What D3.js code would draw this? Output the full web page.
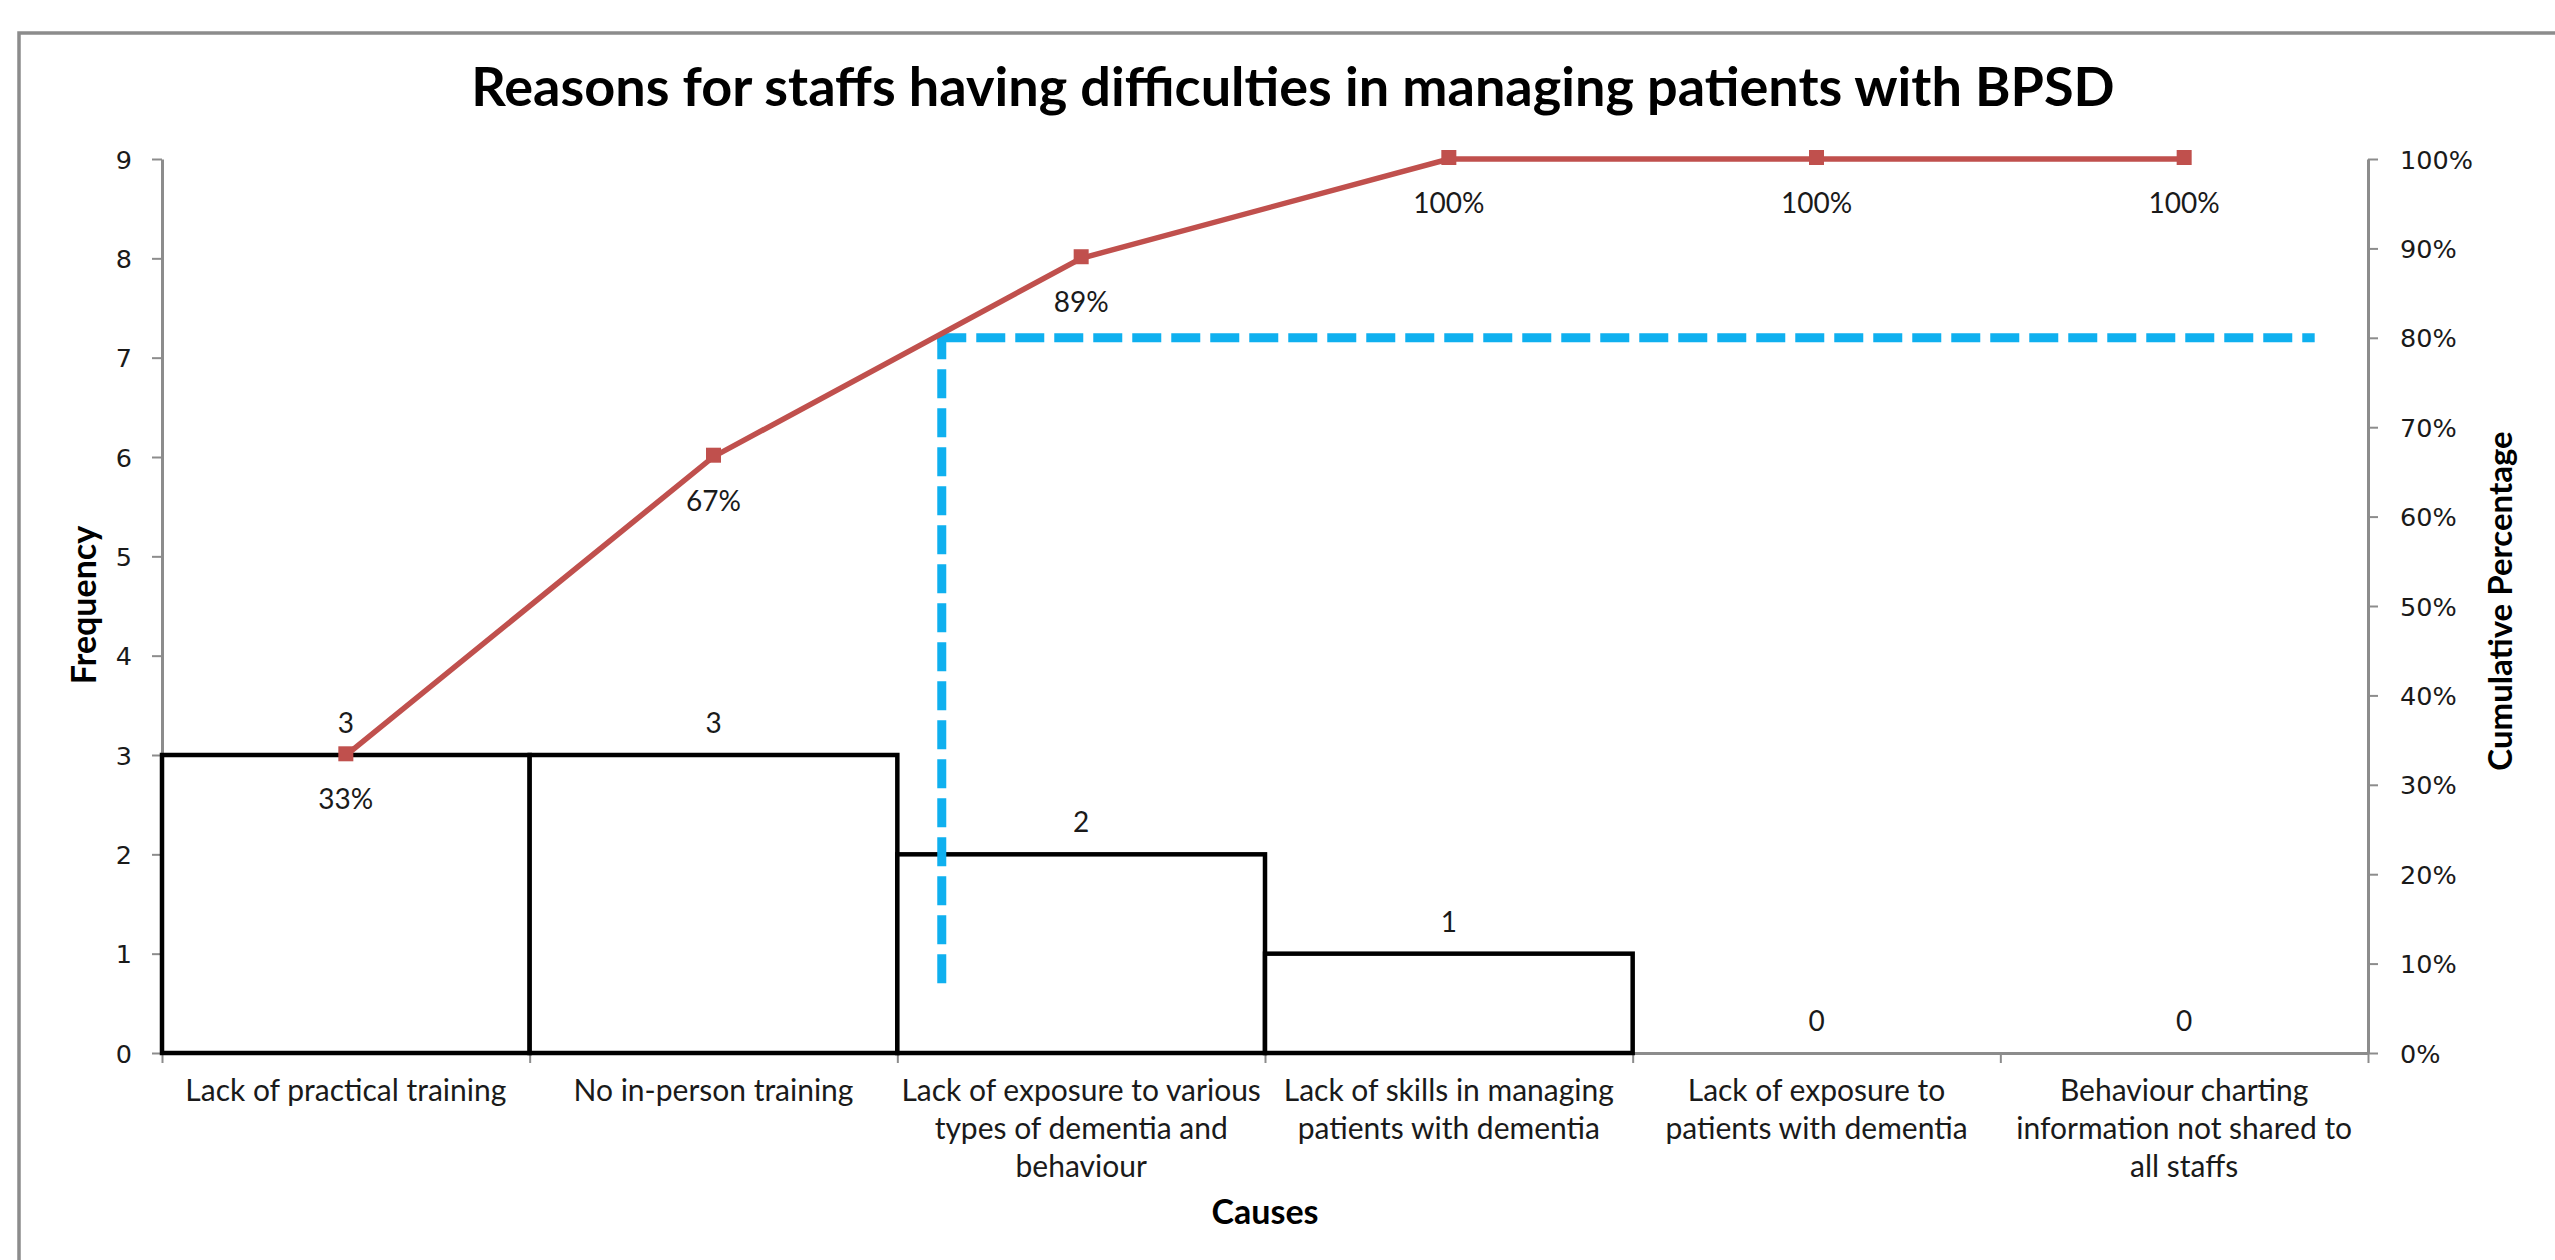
<!DOCTYPE html>
<html>
<head>
<meta charset="utf-8">
<script src="https://cdn.jsdelivr.net/npm/d3@7"></script>
<style>
  body { margin: 0; background: #fff; }
  svg { display: block; }
</style>
</head>
<body>
<div id="chart"></div>
<script>
// ---- data ----
const causes = [
  ["Lack of practical training"],
  ["No in-person training"],
  ["Lack of exposure to various", "types of dementia and", "behaviour"],
  ["Lack of skills in managing", "patients with dementia"],
  ["Lack of exposure to", "patients with dementia"],
  ["Behaviour charting", "information not shared to", "all staffs"]
];
const frequency = [3, 3, 2, 1, 0, 0];
const cumulativePct = [0.333, 0.667, 0.889, 1, 1, 1];
const freqTicks = [0, 1, 2, 3, 4, 5, 6, 7, 8, 9];
const pctTicks = [0, 0.1, 0.2, 0.3, 0.4, 0.5, 0.6, 0.7, 0.8, 0.9, 1];
const cutoff = 0.8;          // 80% pareto line
const cutoffDropTo = 0.078;  // dashed drop line stops here (pct axis)
const cutoffEnd = 5.855;     // dashed 80% line stops here (category position)

const width = 2555, height = 1260;
const plotLeft = 162, plotRight = 2368, plotTop = 159, plotBottom = 1053;
const calibri = "Lato, 'Open Sans', sans-serif";
const verdana = "'DejaVu Sans', Verdana, sans-serif";

var svg = d3.select("#chart").append("svg")
    .attr("width", width)
    .attr("height", height);

// chart frame
svg.append("rect")
    .attr("x", 19).attr("y", 33)
    .attr("width", 2700).attr("height", 1400)
    .attr("fill", "none")
    .attr("stroke", "#8c8c8c")
    .attr("stroke-width", 3.5);

const x = d3.scaleBand().domain(d3.range(causes.length)).range([plotLeft, plotRight]).padding(0);
const xPos = d3.scaleLinear().domain([0, causes.length]).range([plotLeft, plotRight]);
const yFreq = d3.scaleLinear().domain([0, 9]).range([plotBottom, plotTop]);
const yPct = d3.scaleLinear().domain([0, 1]).range([plotBottom, plotTop]);

function styleAxis(g, font) {
    g.select(".domain").attr("stroke", "#8c8c8c").attr("stroke-width", 3);
    g.selectAll(".tick line").attr("stroke", "#8c8c8c").attr("stroke-width", 2);
    g.selectAll(".tick text")
        .attr("font-family", font)
        .attr("font-size", 25.5)
        .attr("fill", "#1a1a1a");
}

// left axis
svg.append("g")
    .attr("transform", `translate(${plotLeft},0)`)
    .call(d3.axisLeft(yFreq).tickValues(freqTicks).tickSize(10).tickSizeOuter(0).tickPadding(20))
    .call(g => styleAxis(g, verdana))
    .call(g => g.selectAll(".tick text").attr("dy", "0.36em"));

// right axis
svg.append("g")
    .attr("transform", `translate(${plotRight},0)`)
    .call(d3.axisRight(yPct).tickValues(pctTicks).tickFormat(d3.format(".0%"))
        .tickSize(10).tickSizeOuter(0).tickPadding(22))
    .call(g => styleAxis(g, verdana))
    .call(g => g.selectAll(".tick text").attr("dy", "0.36em"));

// bottom axis, ticks on category boundaries
svg.append("g")
    .attr("transform", `translate(0,${plotBottom})`)
    .call(d3.axisBottom(xPos).tickValues(d3.range(causes.length + 1)).tickFormat("")
        .tickSize(10).tickSizeOuter(0))
    .call(g => styleAxis(g, verdana));

// category labels
const catLabels = svg.append("g").selectAll("text")
    .data(causes)
    .enter().append("text")
    .attr("x", (d, i) => x(i) + x.bandwidth() / 2)
    .attr("y", 1101)
    .attr("text-anchor", "middle")
    .attr("font-family", calibri)
    .attr("font-size", 30)
    .attr("fill", "#1a1a1a");
catLabels.selectAll("tspan")
    .data(d => d)
    .enter().append("tspan")
    .attr("x", function() { return this.parentNode.getAttribute("x"); })
    .attr("dy", (d, i) => i === 0 ? 0 : 38)
    .text(d => d);

// bars
svg.append("g").selectAll("rect")
    .data(frequency)
    .enter().append("rect")
    .attr("x", (d, i) => x(i))
    .attr("y", d => yFreq(d))
    .attr("width", x.bandwidth())
    .attr("height", d => yFreq(0) - yFreq(d))
    .attr("fill", "#fff")
    .attr("stroke", d => d > 0 ? "#000" : "none")
    .attr("stroke-width", 4.5);

// bar value labels
svg.append("g").selectAll("text")
    .data(frequency)
    .enter().append("text")
    .attr("x", (d, i) => x(i) + x.bandwidth() / 2)
    .attr("y", d => yFreq(d) - 22)
    .attr("text-anchor", "middle")
    .attr("font-family", calibri)
    .attr("font-size", 28)
    .attr("fill", "#1a1a1a")
    .text(d => d);

// 80% cutoff, dashed blue
let cross = 0;
for (let i = 1; i < cumulativePct.length; i++) {
    if (cumulativePct[i - 1] < cutoff && cumulativePct[i] >= cutoff) {
        cross = i - 1 + (cutoff - cumulativePct[i - 1]) / (cumulativePct[i] - cumulativePct[i - 1]);
        break;
    }
}
const crossX = xPos(cross + 0.5) + 8;
const dash = svg.append("g")
    .attr("stroke", "#0fb0ef")
    .attr("stroke-width", 9)
    .attr("stroke-dasharray", "29 10")
    .attr("fill", "none");
dash.append("path")
    .attr("d", d3.line()([[crossX, yPct(cutoffDropTo)], [crossX, yPct(cutoff)]]));
dash.append("path")
    .attr("d", d3.line()([[crossX - 4.5, yPct(cutoff)], [xPos(cutoffEnd), yPct(cutoff)]]));

// cumulative line
const cumLine = d3.line()
    .x((d, i) => x(i) + x.bandwidth() / 2)
    .y(d => yPct(d));
svg.append("path")
    .datum(cumulativePct)
    .attr("d", cumLine)
    .attr("fill", "none")
    .attr("stroke", "#c0504d")
    .attr("stroke-width", 5.5);

svg.append("g").selectAll("rect")
    .data(cumulativePct)
    .enter().append("rect")
    .attr("x", (d, i) => x(i) + x.bandwidth() / 2 - 7.5)
    .attr("y", d => yPct(d) - 9)
    .attr("width", 15)
    .attr("height", 15)
    .attr("fill", "#c0504d");

svg.append("g").selectAll("text")
    .data(cumulativePct)
    .enter().append("text")
    .attr("x", (d, i) => x(i) + x.bandwidth() / 2)
    .attr("y", d => yPct(d) + 54)
    .attr("text-anchor", "middle")
    .attr("font-family", calibri)
    .attr("font-size", 28)
    .attr("fill", "#1a1a1a")
    .text(d => d3.format(".0%")(d));

// titles
svg.append("text")
    .attr("x", 1293).attr("y", 106)
    .attr("text-anchor", "middle")
    .attr("font-family", calibri)
    .attr("font-weight", "bold")
    .attr("font-size", 54)
    .attr("fill", "#000")
    .text("Reasons for staffs having difficulties in managing patients with BPSD");

svg.append("text")
    .attr("transform", "translate(96,605) rotate(-90)")
    .attr("text-anchor", "middle")
    .attr("font-family", calibri)
    .attr("font-weight", "bold")
    .attr("font-size", 34)
    .attr("fill", "#000")
    .text("Frequency");

svg.append("text")
    .attr("transform", "translate(2512,601) rotate(-90)")
    .attr("text-anchor", "middle")
    .attr("font-family", calibri)
    .attr("font-weight", "bold")
    .attr("font-size", 33)
    .attr("fill", "#000")
    .text("Cumulative Percentage");

svg.append("text")
    .attr("x", (plotLeft + plotRight) / 2).attr("y", 1224)
    .attr("text-anchor", "middle")
    .attr("font-family", calibri)
    .attr("font-weight", "bold")
    .attr("font-size", 34)
    .attr("fill", "#000")
    .text("Causes");
</script>
</body>
</html>
